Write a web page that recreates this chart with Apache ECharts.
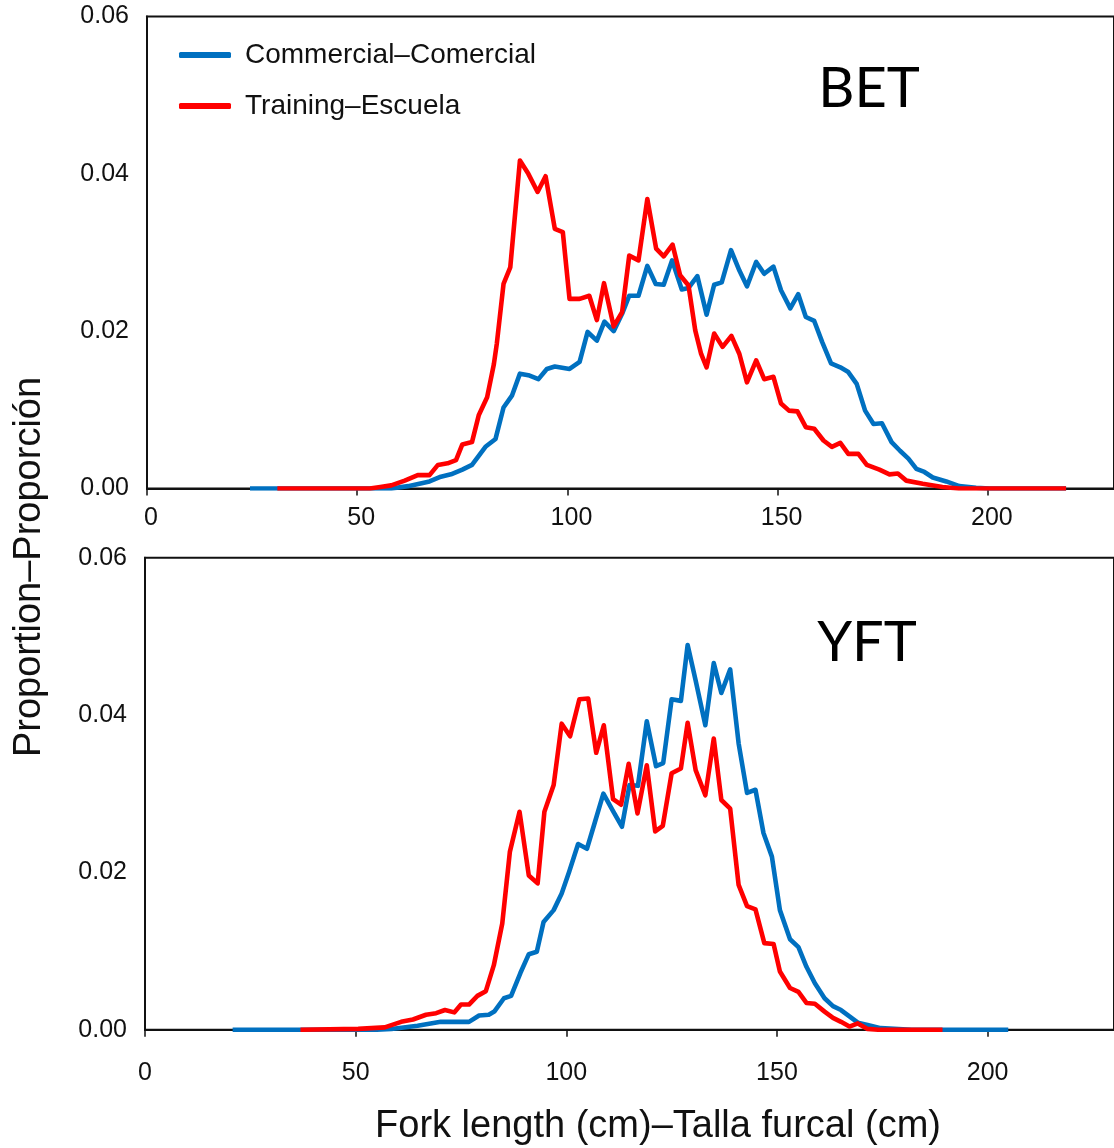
<!DOCTYPE html>
<html>
<head>
<meta charset="utf-8">
<script src="https://cdn.jsdelivr.net/npm/echarts@6/dist/echarts.min.js"></script>
<style>
  html, body { margin: 0; padding: 0; background: #fff; }
  #chart { width: 1114px; height: 1148px; }
</style>
</head>
<body>
<div id="chart"></div>
<script>
// ---- Data (fork length cm, proportion) ----
var seriesNames = ['Commercial\u2013Comercial', 'Training\u2013Escuela'];
var panelLabels = ['BET', 'YFT'];
var xTicks = [0, 50, 100, 150, 200];
var yTicks = [0, 0.02, 0.04, 0.06];

var betCommercial = [[24.5,0],[58.1,0],[62.1,0.0003],[67.2,0.0009],[69.9,0.0015],[72.3,0.0018],[75.0,0.0024],[77.3,0.0030],[80.5,0.0053],[82.9,0.0063],[84.8,0.0103],[86.8,0.0118],[88.7,0.0146],[90.7,0.0144],[93.1,0.0139],[95.1,0.0152],[97.0,0.0155],[100.5,0.0152],[102.9,0.0161],[104.8,0.0199],[107.0,0.0188],[108.8,0.0212],[111.0,0.0200],[113.0,0.0222],[114.7,0.0245],[116.9,0.0245],[119.0,0.0283],[121.0,0.0260],[122.9,0.0259],[124.9,0.0290],[127.2,0.0253],[128.8,0.0255],[130.9,0.0270],[133.1,0.0221],[134.9,0.0259],[136.7,0.0262],[138.9,0.0303],[140.9,0.0277],[142.7,0.0257],[144.9,0.0288],[146.8,0.0273],[149.0,0.0282],[150.8,0.0252],[153.0,0.0229],[154.9,0.0247],[156.7,0.0218],[158.7,0.0213],[160.6,0.0186],[162.7,0.0159],[164.9,0.0154],[166.8,0.0148],[168.8,0.0133],[170.8,0.0099],[172.8,0.0082],[174.8,0.0083],[177.1,0.0059],[179.1,0.0048],[181.1,0.0038],[183.0,0.0025],[184.9,0.0021],[186.9,0.0014],[190.1,0.0009],[193.2,0.0003],[197.2,0.0001],[200.4,0],[218.6,0]];

var betTraining = [[31.0,0],[53.0,0],[55.5,0.0002],[58.1,0.0004],[61.3,0.0010],[64.4,0.0017],[67.2,0.0017],[69.2,0.0030],[71.5,0.0032],[73.5,0.0036],[75.0,0.0056],[77.3,0.0059],[78.9,0.0093],[80.9,0.0116],[82.5,0.0158],[83.2,0.0184],[84.8,0.0260],[86.4,0.0281],[88.7,0.0417],[90.7,0.0400],[92.9,0.0377],[94.8,0.0397],[97.0,0.0330],[98.9,0.0326],[100.5,0.0241],[102.9,0.0241],[105.2,0.0245],[107.0,0.0214],[108.7,0.0261],[111.0,0.0206],[113.0,0.0224],[114.7,0.0296],[116.9,0.0290],[119.0,0.0368],[121.1,0.0305],[122.9,0.0295],[125.0,0.0310],[126.8,0.0271],[128.8,0.0258],[130.4,0.0201],[131.8,0.0171],[133.1,0.0154],[134.9,0.0197],[136.9,0.0180],[139.0,0.0194],[140.9,0.0171],[142.7,0.0135],[144.9,0.0163],[146.8,0.0139],[149.0,0.0142],[150.8,0.0108],[152.7,0.0099],[154.7,0.0098],[156.7,0.0078],[158.7,0.0076],[160.9,0.0061],[162.9,0.0053],[164.9,0.0058],[166.8,0.0044],[169.2,0.0044],[171.2,0.0030],[174.2,0.0024],[176.6,0.0018],[178.6,0.0019],[180.6,0.0010],[184.5,0.0006],[189.2,0.0002],[193.1,0],[218.6,0]];

var yftCommercial = [[20.8,0],[55.0,0],[58.5,0.0001],[64.7,0.0005],[70.2,0.0010],[76.9,0.0010],[79.3,0.0018],[81.6,0.0019],[82.9,0.0023],[85.2,0.0040],[86.9,0.0043],[89.1,0.0072],[91.1,0.0096],[93.0,0.0099],[94.6,0.0137],[97.0,0.0152],[98.9,0.0173],[100.7,0.0201],[102.8,0.0236],[104.9,0.0230],[106.8,0.0264],[108.8,0.0300],[111.1,0.0278],[113.2,0.0258],[115.0,0.0311],[117.0,0.0310],[119.1,0.0392],[121.3,0.0335],[123.0,0.0339],[125.0,0.0420],[127.2,0.0418],[128.8,0.0489],[130.7,0.0444],[133.0,0.0387],[135.0,0.0466],[136.8,0.0428],[138.9,0.0458],[140.9,0.0364],[142.9,0.0301],[144.9,0.0305],[146.8,0.0250],[148.8,0.0220],[150.7,0.0152],[153.1,0.0115],[155.1,0.0105],[157.0,0.0080],[159.0,0.0059],[161.3,0.0040],[163.3,0.0030],[165.2,0.0025],[167.2,0.0017],[169.2,0.0009],[171.5,0.0006],[174.6,0.0002],[177.8,0.0001],[182.0,0],[204.9,0]];

var yftTraining = [[36.9,0],[50.6,0.0001],[56.9,0.0003],[60.8,0.0010],[63.6,0.0013],[66.7,0.0019],[69.1,0.0021],[71.2,0.0025],[73.4,0.0022],[75.0,0.0032],[76.9,0.0032],[78.9,0.0043],[80.9,0.0049],[82.8,0.0082],[84.8,0.0135],[86.6,0.0226],[88.9,0.0277],[91.1,0.0196],[93.2,0.0186],[94.8,0.0277],[97.0,0.0311],[98.9,0.0389],[100.9,0.0373],[103.1,0.0420],[105.2,0.0421],[107.1,0.0352],[108.9,0.0387],[111.1,0.0293],[113.0,0.0286],[114.8,0.0338],[116.9,0.0275],[119.1,0.0336],[121.1,0.0252],[122.9,0.0259],[125.0,0.0326],[127.2,0.0332],[128.8,0.0390],[130.7,0.0330],[133.0,0.0298],[135.0,0.0370],[136.8,0.0292],[138.9,0.0281],[140.9,0.0184],[142.9,0.0157],[144.9,0.0153],[147.0,0.0110],[149.2,0.0109],[150.7,0.0074],[153.1,0.0053],[155.1,0.0048],[157.0,0.0034],[159.0,0.0033],[161.3,0.0023],[163.3,0.0015],[165.2,0.0010],[167.2,0.0004],[169.2,0.0008],[171.5,0.0001],[174.0,0],[189.3,0]];

// ---- Styling ----
var BLUE = '#0070C0';
var RED = '#FF0000';
var FONT = "'Liberation Sans', Arial, sans-serif";

function xAxisFor(gridIndex, labelMargin, labelPad) {
  return {
    type: 'value', gridIndex: gridIndex, min: 0, max: 230, interval: 50,
    axisLine: { show: true, onZero: false, lineStyle: { color: '#111', width: 2 } },
    axisTick: { show: true, length: 7, lineStyle: { color: '#111', width: 1.5 } },
    splitLine: { show: false },
    axisLabel: {
      margin: labelMargin, fontFamily: FONT, fontSize: 25, color: '#111',
      padding: labelPad, showMaxLabel: false,
      formatter: function (v) { return xTicks.indexOf(v) >= 0 ? String(v) : ''; }
    }
  };
}
function yAxisFor(gridIndex) {
  return {
    type: 'value', gridIndex: gridIndex, min: 0, max: 0.06, interval: 0.02,
    axisLine: { show: true, lineStyle: { color: '#111', width: 2 } },
    axisTick: { show: false },
    splitLine: { show: false },
    axisLabel: {
      margin: 18, fontFamily: FONT, fontSize: 25, color: '#111',
      padding: [3, 0, 0, 0],
      formatter: function (v) {
        for (var i = 0; i < yTicks.length; i++) {
          if (Math.abs(v - yTicks[i]) < 1e-9) return yTicks[i].toFixed(2);
        }
        return '';
      }
    }
  };
}
function lineSeries(name, data, color, xi, z) {
  return {
    type: 'line', name: name, data: data, xAxisIndex: xi, yAxisIndex: xi,
    showSymbol: false, symbol: 'none', smooth: false, z: z,
    lineStyle: { color: color, width: 4.6, join: 'round', cap: 'butt' },
    itemStyle: { color: color },
    animation: false
  };
}

var chart = echarts.init(document.getElementById('chart'), null, { renderer: 'canvas' });
chart.setOption({
  backgroundColor: '#ffffff',
  animation: false,
  grid: [
    { left: 147, top: 16.5, height: 472, width: 976.6, show: true, borderColor: '#111', borderWidth: 2, backgroundColor: 'transparent' },
    { left: 145, top: 557.7, height: 472, width: 976.6, show: true, borderColor: '#111', borderWidth: 2, backgroundColor: 'transparent' }
  ],
  xAxis: [xAxisFor(0, 17, [0, 0, 0, 8]), xAxisFor(1, 31, 0)],
  yAxis: [yAxisFor(0), yAxisFor(1)],
  legend: {
    orient: 'vertical', left: 174, top: 36, itemGap: 23,
    itemWidth: 52, itemHeight: 6, icon: 'roundRect',
    data: seriesNames,
    textStyle: { fontFamily: FONT, fontSize: 28, color: '#111', padding: [0, 0, 0, 9] }
  },
  series: [
    lineSeries(seriesNames[0], betCommercial, BLUE, 0, 2),
    lineSeries(seriesNames[1], betTraining, RED, 0, 3),
    lineSeries(seriesNames[0], yftCommercial, BLUE, 1, 2),
    lineSeries(seriesNames[1], yftTraining, RED, 1, 3)
  ],
  graphic: [
    { type: 'text', x: 869, y: 89, style: { text: panelLabels[0], font: "56px Lato, 'Open Sans', sans-serif", fill: '#000', align: 'center', verticalAlign: 'middle', textAlign: 'center', textVerticalAlign: 'middle' } },
    { type: 'text', x: 867, y: 643, style: { text: panelLabels[1], font: "56px Lato, 'Open Sans', sans-serif", fill: '#000', align: 'center', verticalAlign: 'middle', textAlign: 'center', textVerticalAlign: 'middle' } },
    { type: 'text', x: 30, y: 567, rotation: Math.PI / 2, style: { text: 'Proportion\u2013Proporci\u00f3n', font: "38px " + FONT, fill: '#111', align: 'center', verticalAlign: 'middle', textAlign: 'center', textVerticalAlign: 'middle' } },
    { type: 'text', x: 658, y: 1127, style: { text: 'Fork length (cm)\u2013Talla furcal (cm)', font: "38px " + FONT, fill: '#111', align: 'center', verticalAlign: 'middle', textAlign: 'center', textVerticalAlign: 'middle' } }
  ]
});
</script>
</body>
</html>
